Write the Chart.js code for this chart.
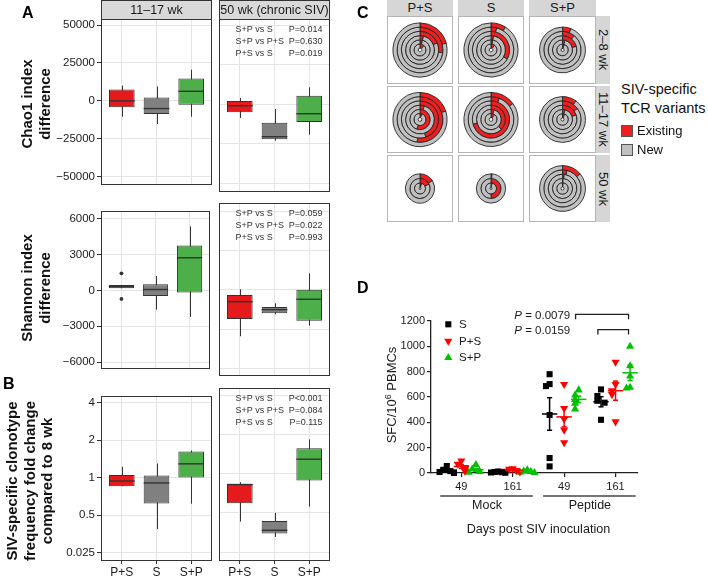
<!DOCTYPE html>
<html><head><meta charset="utf-8">
<script src="https://cdn.jsdelivr.net/npm/chart.js@4.4.1/dist/chart.umd.min.js"></script>
<style>
html,body{margin:0;padding:0;background:#fff}
body{width:708px;height:576px;position:relative;overflow:hidden;font-family:'Liberation Sans',Arial,Helvetica,sans-serif;color:#1a1a1a}
.t{position:absolute;white-space:nowrap}
canvas{position:absolute}
.cell{position:absolute;border:1px solid #b5b5b5;box-sizing:border-box}
.strip{position:absolute;background:#d6d6d6;text-align:center;color:#1a1a1a;white-space:nowrap}
</style></head><body>
<script>
// ===================== DATA =====================
// Panels A/B: box statistics per group [lowWhisker, q1, median, q3, highWhisker]
const boxGroups = ['P+S', 'S', 'S+P'];
const facetLabels = ['11\u201317 wk', '50 wk (chronic SIV)'];

const chaoTicks = [-50000, -25000, 0, 25000, 50000];
const chaoTickLabels = ['\u221250000', '\u221225000', '0', '25000', '50000'];
const chaoWk11 = [[-10400, -4240, 0, 7600, 10100], [-15200, -8700, -5060, 2300, 9500], [-10400, -2530, 6330, 14700, 20600]];
const chaoWk50 = [[-8700, -5060, -890, 2100, 4000], [-23000, -22150, -20500, -11600, -2970], [-19200, -11200, -5950, 5440, 10760]];
const chaoNotes = [['S+P vs S', 'P=0.014'], ['S+P vs P+S', 'P=0.630'], ['P+S vs S', 'P=0.019']];

const shanTicks = [-6000, -3000, 0, 3000, 6000];
const shanTickLabels = ['\u22126000', '\u22123000', '0', '3000', '6000'];
const shanWk11 = [[178, 178, 330, 459, 459], [-1610, -460, 76, 510, 1200], [-2220, -180, 2730, 3750, 5355]];
const shanWk11Outliers = [[1430, -710], [], []];
const shanWk50 = [[-3540, -2220, -895, -380, 50], [-1860, -1785, -1505, -1300, -1020], [-2730, -2350, -710, 25, 1275]];
const shanNotes = [['S+P vs S', 'P=0.059'], ['S+P vs P+S', 'P=0.022'], ['P+S vs S', 'P=0.993']];

const foldTicks = [0.25, 0.5, 1, 2, 4];
const foldTickLabels = ['0.025', '0.5', '1', '2', '4'];
const foldWk11 = [[0.853, 0.853, 0.938, 1.05, 1.22], [0.386, 0.621, 0.906, 1.04, 1.30], [0.618, 1.0, 1.29, 1.62, 1.65]];
const foldWk50 = [[0.429, 0.593, 0.824, 0.838, 0.859], [0.327, 0.347, 0.368, 0.434, 0.5], [0.559, 0.884, 1.29, 1.565, 1.83]];
const foldNotes = [['S+P vs S', 'P<0.001'], ['S+P vs P+S', 'P=0.084'], ['P+S vs S', 'P=0.115']];

// Panel C: fraction of "Existing" TCR variants in each ring (outermost ring first)
const cCols = ['P+S', 'S', 'S+P'];
const cRows = ['2\u20138 wk', '11\u201317 wk', '50 wk'];
const ringsPS = [[0.21, 0.27, 0.19, 0.04, 0.04, 0.12], [0.2, 0.52, 0.45, 0.05, 0.55, 0.05], [0.16, 0.18, 0.05]];
const ringsS  = [[0.09, 0.04, 0.33, 0.03, 0.03, 0.1], [0.15, 0.06, 0.71, 0.37, 0.05, 0.1], [0.01, 0.5, 0.03]];
const ringsSP = [[0.06, 0.11, 0.21, 0.04, 0.05], [0.1, 0.15, 0.2, 0.04, 0.06], [0.14, 0.04, 0.02, 0.01, 0.02]];
const cLegend = ['Existing', 'New'];

// Panel D: SFC per 10^6 PBMCs, groups: Mock 49, Mock 161, Peptide 49, Peptide 161
const dGroupLabels = ['49', '161', '49', '161'];
const dConditions = ['Mock', 'Peptide'];
const dSeries = ['S', 'P+S', 'S+P'];
const dYTicks = [0, 200, 400, 600, 800, 1000, 1200];
const sfcS  = [[55, 25, 15, 8, 5, 0], [12, 8, 6, 4, 2], [780, 702, 686, 458, 118, 52], [660, 608, 570, 555, 420]];
const sfcPS = [[95, 70, 45, 30, 15], [35, 30, 20, 15, 10], [700, 510, 425, 340, 240], [875, 700, 650, 620, 405]];
const sfcSP = [[65, 30, 15, 10, 5], [25, 15, 10, 5, 2], [655, 615, 580, 550, 505], [1000, 845, 765, 675, 670]];
const dPvalues = ['0.0079', '0.0159'];

// ===================== STYLE / HELPERS =====================
const FONT = "'Liberation Sans', Arial, Helvetica, sans-serif";
Chart.defaults.font.family = FONT;
const BOX_COLORS = ['#e41a1c', '#808080', '#4daf4a'];
const TXT = '#1a1a1a';

function el(tag, cls, css, html) {
  const d = document.createElement(tag);
  if (cls) d.className = cls;
  if (css) d.style.cssText = css;
  if (html !== undefined) d.innerHTML = html;
  document.body.appendChild(d);
  return d;
}
function mkCanvas(x, y, w, h) {
  const c = document.createElement('canvas');
  c.width = w; c.height = h;
  c.style.cssText = `left:${x}px;top:${y}px;width:${w}px;height:${h}px`;
  document.body.appendChild(c);
  return c;
}
function vtext(lines, cx, cy, size, lh, bold) {
  el('div', 't', `left:${cx}px;top:${cy}px;transform:translate(-50%,-50%) rotate(-90deg);font-size:${size}px;line-height:${lh}px;font-weight:${bold ? 'bold' : 'normal'};text-align:center;color:#111`, lines.join('<br>'));
}

// ===================== PANELS A & B (boxplots) =====================
function boxChart(cfg) {
  const a = cfg.area;
  const ml = cfg.yLabels ? 61 : 1, mr = 2;
  const mt = cfg.strip ? a.y : 1;
  const mb = cfg.xLabels ? 16 : 2;
  const W = a.w + ml + mr, H = a.h + mt + mb;
  const cv = mkCanvas(a.x - ml, a.y - mt, W, H);
  const outData = [];
  (cfg.outliers || []).forEach((arr, i) => arr.forEach(v => outData.push({ x: i + 1, y: v })));
  new Chart(cv, {
    type: 'bar',
    data: {
      datasets: [{
        data: cfg.stats.map((s, i) => ({ x: i + 1, y: [s[1], s[3]] })),
        backgroundColor: BOX_COLORS, borderColor: '#333', borderWidth: 1, borderSkipped: false,
        grouped: false, categoryPercentage: 1, barPercentage: 0.74, order: 2
      }, {
        type: 'scatter', data: outData, pointRadius: 1.9, backgroundColor: '#333', borderWidth: 0, order: 1
      }]
    },
    options: {
      responsive: false, animation: false, devicePixelRatio: 1,
      layout: { padding: { left: cfg.yLabels ? 0 : ml, right: mr, top: mt, bottom: cfg.xLabels ? 0 : mb } },
      plugins: { legend: { display: false }, tooltip: { enabled: false } },
      scales: {
        x: {
          type: 'linear', min: 0.4, max: 3.6, offset: false,
          afterBuildTicks: s => { s.ticks = boxGroups.map((g, i) => ({ value: i + 1 })); },
          ticks: { display: cfg.xLabels, callback: (v, i) => boxGroups[i], font: { size: 12 }, color: TXT, padding: 1, maxRotation: 0 },
          grid: { color: '#e4e4e4', lineWidth: 1, offset: false, drawTicks: cfg.xLabels, tickLength: 3, tickColor: '#333' },
          border: { display: false },
          afterFit: s => { s.height = cfg.xLabels ? mb : 0; }
        },
        y: {
          type: cfg.log ? 'logarithmic' : 'linear', min: cfg.min, max: cfg.max,
          afterBuildTicks: s => { s.ticks = cfg.ticks.map(v => ({ value: v })); },
          ticks: { display: cfg.yLabels, callback: (v, i) => cfg.tickLabels[i], font: { size: 11.5 }, color: TXT, padding: 2 },
          grid: { color: '#e4e4e4', lineWidth: 1, drawTicks: cfg.yLabels, tickLength: 4, tickColor: '#333' },
          border: { display: false },
          afterFit: s => { s.width = cfg.yLabels ? ml : 0; }
        }
      }
    },
    plugins: [{
      id: 'boxdeco',
      beforeDatasetsDraw(chart) {
        const { ctx, scales: { x, y } } = chart;
        ctx.save(); ctx.strokeStyle = '#333'; ctx.lineWidth = 1;
        cfg.stats.forEach((s, i) => {
          const px = Math.round(x.getPixelForValue(i + 1)) + 0.5;
          ctx.beginPath(); ctx.moveTo(px, y.getPixelForValue(s[0])); ctx.lineTo(px, y.getPixelForValue(s[4])); ctx.stroke();
        });
        ctx.restore();
      },
      afterDatasetsDraw(chart) {
        const { ctx, scales: { x, y }, chartArea: ca } = chart;
        const meta = chart.getDatasetMeta(0);
        ctx.save(); ctx.strokeStyle = '#333'; ctx.lineWidth = 1.4;
        cfg.stats.forEach((s, i) => {
          const bar = meta.data[i];
          const py = y.getPixelForValue(s[2]);
          ctx.beginPath(); ctx.moveTo(bar.x - bar.width / 2, py); ctx.lineTo(bar.x + bar.width / 2, py); ctx.stroke();
        });
        // panel border
        ctx.lineWidth = 1; ctx.strokeStyle = '#333';
        ctx.strokeRect(Math.round(ca.left) + 0.5, Math.round(ca.top) + 0.5, Math.round(ca.right - ca.left) - 1, Math.round(ca.bottom - ca.top) - 1);
        // facet strip
        if (cfg.strip) {
          ctx.fillStyle = '#d9d9d9';
          ctx.fillRect(Math.round(ca.left) + 0.5, 0.5, Math.round(ca.right - ca.left) - 1, Math.round(ca.top));
          ctx.strokeRect(Math.round(ca.left) + 0.5, 0.5, Math.round(ca.right - ca.left) - 1, Math.round(ca.top));
          ctx.fillStyle = TXT; ctx.font = `12.5px ${FONT}`; ctx.textAlign = 'center'; ctx.textBaseline = 'middle';
          ctx.fillText(cfg.strip, (ca.left + ca.right) / 2, ca.top / 2 + 1);
        }
        // p-value notes
        if (cfg.notes) {
          ctx.fillStyle = '#333'; ctx.font = `9px ${FONT}`; ctx.textBaseline = 'middle';
          cfg.notes.forEach((n, i) => {
            const ty = ca.top + 10.5 + i * 11.8;
            ctx.textAlign = 'left'; ctx.fillText(n[0], ca.left + 16.5, ty);
            ctx.textAlign = 'right'; ctx.fillText(n[1], ca.right - 7.5, ty);
          });
        }
        ctx.restore();
      }
    }]
  });
}

const colX = [{ x: 101, w: 111 }, { x: 219, w: 111 }];
const rowY = [{ y: 19, h: 173 }, { y: 203, h: 173 }, { y: 388, h: 173 }];
const rowsDef = [
  { stats: [chaoWk11, chaoWk50], out: [null, null], ticks: chaoTicks, labels: chaoTickLabels, min: -55500, max: 54000, notes: chaoNotes, log: false },
  { stats: [shanWk11, shanWk50], out: [shanWk11Outliers, null], ticks: shanTicks, labels: shanTickLabels, min: -6580, max: 6650, notes: shanNotes, log: false },
  { stats: [foldWk11, foldWk50], out: [null, null], ticks: foldTicks, labels: foldTickLabels, min: 0.214, max: 4.53, notes: foldNotes, log: true }
];
rowsDef.forEach((r, ri) => {
  [0, 1].forEach(ci => {
    boxChart({
      area: { x: colX[ci].x, y: rowY[ri].y, w: colX[ci].w, h: rowY[ri].h },
      stats: r.stats[ci], outliers: r.out[ci], ticks: r.ticks, tickLabels: r.labels, min: r.min, max: r.max, log: r.log,
      yLabels: ci === 0, xLabels: ri === 2, strip: ri === 0 ? facetLabels[ci] : null, notes: ci === 1 ? r.notes : null
    });
  });
});
vtext(['Chao1 index', 'difference'], 35.3, 103.5, 15, 17.5, true);
vtext(['Shannon index', 'difference'], 35.3, 288, 15, 17.5, true);
vtext(['SIV-specific clonotype', 'frequency fold change', 'compared to 8 wk'], 28.5, 481, 15, 17.5, true);

// ===================== PANEL C (concentric rings) =====================
const RED = '#f01e1e', GREY = '#c0c0c0';
const HOLE = 2.2, RING_W = 4.15;
const cColX = [{ x: 387, w: 66 }, { x: 458, w: 66 }, { x: 529, w: 67 }];
const cRowY = [{ y: 16, h: 68 }, { y: 86, h: 67 }, { y: 155, h: 67 }];
const cData = [ringsPS, ringsS, ringsSP];
cCols.forEach((name, ci) => {
  el('div', 'strip', `left:${cColX[ci].x}px;top:0px;width:${cColX[ci].w}px;height:16px;line-height:16px;font-size:13px`, name);
});
cRows.forEach((name, ri) => {
  el('div', 'strip', `left:596px;top:${cRowY[ri].y}px;width:14px;height:${cRowY[ri].h}px;font-size:13px;line-height:14px;writing-mode:vertical-rl;display:flex;align-items:center;justify-content:center`, name);
});
cData.forEach((colData, ci) => {
  colData.forEach((fracs, ri) => {
    const cx = cColX[ci], ry = cRowY[ri];
    const cv = mkCanvas(cx.x, ry.y, cx.w, ry.h);
    new Chart(cv, {
      type: 'doughnut',
      data: {
        labels: cLegend,
        datasets: fracs.map(f => ({ data: [f, 1 - f], backgroundColor: [RED, GREY], borderColor: '#262626', borderWidth: 0.9 }))
      },
      options: {
        responsive: false, animation: false, devicePixelRatio: 1,
        radius: HOLE + fracs.length * RING_W, cutout: HOLE,
        layout: { padding: 0 },
        plugins: { legend: { display: false }, tooltip: { enabled: false } }
      }
    });
    el('div', 'cell', `left:${cx.x}px;top:${ry.y}px;width:${cx.w}px;height:${ry.h}px`);
  });
});
el('div', 't', 'left:621px;top:80px;font-size:14.5px;line-height:19px;color:#111', 'SIV-specific<br>TCR variants');
[RED, GREY].forEach((c, i) => {
  el('div', 't', `left:621px;top:${125 + i * 19}px;width:12px;height:12px;box-sizing:border-box;border:1px solid #555;background:${c}`);
  el('div', 't', `left:637px;top:${124 + i * 19}px;font-size:13px;line-height:14px;color:#111`, cLegend[i]);
});

// ===================== PANEL D (scatter with mean ± SEM) =====================
const D_COLORS = ['#000000', '#ff0000', '#00c000'];
const SER_OFF = [-0.283, 0, 0.283];
const dValues = [sfcS, sfcPS, sfcSP];
function mean(a) { return a.reduce((s, v) => s + v, 0) / a.length; }
function sem(a) { const m = mean(a); return Math.sqrt(a.reduce((s, v) => s + (v - m) * (v - m), 0) / (a.length - 1)) / Math.sqrt(a.length); }
function spread(vals, thr) {
  const placed = []; const pat = [0, -1, 1, -2, 2, -1, 1];
  return vals.map(v => { const n = placed.filter(p => Math.abs(p - v) < thr).length; placed.push(v); return pat[n] || 0; });
}
const dCv = mkCanvas(360, 295, 348, 281);
const dPlugin = {
  id: 'ddeco',
  afterDatasetsDraw(chart) {
    const { ctx, scales: { x, y } } = chart;
    ctx.save(); ctx.lineWidth = 1.5;
    dValues.forEach((series, si) => {
      ctx.strokeStyle = D_COLORS[si];
      series.forEach((vals, gi) => {
        const m = mean(vals), se = sem(vals), cx = gi + 1 + SER_OFF[si];
        const seg = (x1, y1, x2, y2) => { ctx.beginPath(); ctx.moveTo(x.getPixelForValue(x1), y.getPixelForValue(y1)); ctx.lineTo(x.getPixelForValue(x2), y.getPixelForValue(y2)); ctx.stroke(); };
        seg(cx - 0.15, m, cx + 0.15, m);
        seg(cx, m - se, cx, m + se);
        seg(cx - 0.05, m + se, cx + 0.05, m + se);
        seg(cx - 0.05, m - se, cx + 0.05, m - se);
      });
    });
    ctx.restore();
  },
  afterDraw(chart) {
    const { ctx, scales: { x, y }, chartArea: ca } = chart;
    ctx.save();
    // brackets
    const brackets = [[3 + SER_OFF[2], 4 + SER_OFF[2], 1252, 1213], [4 + SER_OFF[0], 4 + SER_OFF[2], 1132, 1093]];
    ctx.strokeStyle = '#222'; ctx.lineWidth = 1.3;
    brackets.forEach((b, i) => {
      const x1 = x.getPixelForValue(b[0] - 0.06), x2 = x.getPixelForValue(b[1] - 0.03);
      const yt = y.getPixelForValue(b[2]), yb = y.getPixelForValue(b[3]);
      ctx.beginPath(); ctx.moveTo(x1, yb); ctx.lineTo(x1, yt); ctx.lineTo(x2, yt); ctx.lineTo(x2, yb); ctx.stroke();
      ctx.fillStyle = TXT; ctx.textBaseline = 'middle'; ctx.textAlign = 'left';
      ctx.font = `italic 11.5px ${FONT}`;
      const tx = 154.3;
      ctx.fillText('P', tx, yt + 1);
      const pw = ctx.measureText('P').width;
      ctx.font = `11.5px ${FONT}`;
      ctx.fillText(' = ' + dPvalues[i], tx + pw, yt + 1);
    });
    // group underline + condition labels
    ctx.strokeStyle = '#444'; ctx.lineWidth = 1.3;
    dConditions.forEach((c, i) => {
      const cx = 1.49 + 2 * i;
      const yy = ca.bottom + 23;
      ctx.beginPath(); ctx.moveTo(x.getPixelForValue(cx - 0.9), yy); ctx.lineTo(x.getPixelForValue(cx + 0.9), yy); ctx.stroke();
      ctx.fillStyle = TXT; ctx.font = `12.5px ${FONT}`; ctx.textAlign = 'center'; ctx.textBaseline = 'middle';
      ctx.fillText(c, x.getPixelForValue(cx + 0.01), ca.bottom + 33);
    });
    ctx.font = `12.6px ${FONT}`;
    ctx.fillText('Days post SIV inoculation', x.getPixelForValue(2.5), ca.bottom + 57);
    // y title
    ctx.translate(32.7, 100); ctx.rotate(-Math.PI / 2);
    ctx.font = `13px ${FONT}`;
    const p1 = 'SFC/10', p3 = ' PBMCs';
    const w1 = ctx.measureText(p1).width, w3 = ctx.measureText(p3).width;
    ctx.font = `9px ${FONT}`; const w2 = ctx.measureText('6').width;
    const tot = w1 + w2 + w3; let sx = -tot / 2;
    ctx.textAlign = 'left'; ctx.textBaseline = 'middle';
    ctx.font = `13px ${FONT}`; ctx.fillText(p1, sx, 0); sx += w1;
    ctx.font = `9px ${FONT}`; ctx.fillText('6', sx, -4.5); sx += w2;
    ctx.font = `13px ${FONT}`; ctx.fillText(p3, sx, 0);
    ctx.restore();
    // legend
    ctx.save();
    dSeries.forEach((name, si) => {
      const ly = 29.3 + si * 16.7, lx = 88.3;
      const meta = chart.getDatasetMeta(si);
      const pt = meta.data[0];
      ctx.fillStyle = D_COLORS[si];
      Chart.helpers.drawPoint(ctx, { pointStyle: pt.options.pointStyle, rotation: pt.options.rotation, radius: pt.options.radius, borderWidth: 0 }, lx, ly);
      ctx.fillStyle = TXT; ctx.font = `11.5px ${FONT}`; ctx.textAlign = 'left'; ctx.textBaseline = 'middle';
      ctx.fillText(name, 99, ly + 0.5);
    });
    ctx.restore();
  }
};
new Chart(dCv, {
  type: 'scatter',
  data: {
    datasets: dSeries.map((name, si) => ({
      label: name,
      data: dValues[si].flatMap((vals, gi) => { const ks = spread(vals, 55); return vals.map((v, j) => ({ x: gi + 1 + SER_OFF[si] + ks[j] * 0.07, y: v })); }),
      pointStyle: ['rect', 'triangle', 'triangle'][si], rotation: [0, 180, 0][si], pointRadius: [4.3, 4.7, 4.7][si],
      backgroundColor: D_COLORS[si], borderColor: D_COLORS[si], borderWidth: 0, clip: false
    }))
  },
  options: {
    responsive: false, animation: false, devicePixelRatio: 1,
    layout: { padding: { left: 0, right: 70, top: 26, bottom: 0 } },
    plugins: { legend: { display: false }, tooltip: { enabled: false } },
    scales: {
      x: {
        type: 'linear', min: 0.41, max: 4.437,
        afterBuildTicks: s => { s.ticks = dGroupLabels.map((g, i) => ({ value: i + 1 })); },
        ticks: { callback: (v, i) => dGroupLabels[i], font: { size: 11 }, color: TXT, padding: 3, maxRotation: 0 },
        grid: { drawOnChartArea: false, drawTicks: true, tickLength: 4, tickColor: '#222', lineWidth: 1.2 },
        border: { display: true, color: '#222', width: 1.3 },
        afterFit: s => { s.height = 103; }
      },
      y: {
        type: 'linear', min: 0, max: 1200,
        afterBuildTicks: s => { s.ticks = dYTicks.map(v => ({ value: v })); },
        ticks: { callback: (v, i) => String(dYTicks[i]), font: { size: 11 }, color: TXT, padding: 2 },
        grid: { drawOnChartArea: false, drawTicks: true, tickLength: 4, tickColor: '#222', lineWidth: 1.2 },
        border: { display: true, color: '#222', width: 1.3 },
        afterFit: s => { s.width = 71; }
      }
    }
  },
  plugins: [dPlugin]
});

// ===================== PANEL LABELS =====================
[['A', 22, 5], ['B', 3, 376], ['C', 357, 5], ['D', 357, 280]].forEach(l => {
  el('div', 't', `left:${l[1]}px;top:${l[2]}px;font-size:16px;line-height:16px;font-weight:bold;color:#000`, l[0]);
});
</script>
</body></html>
